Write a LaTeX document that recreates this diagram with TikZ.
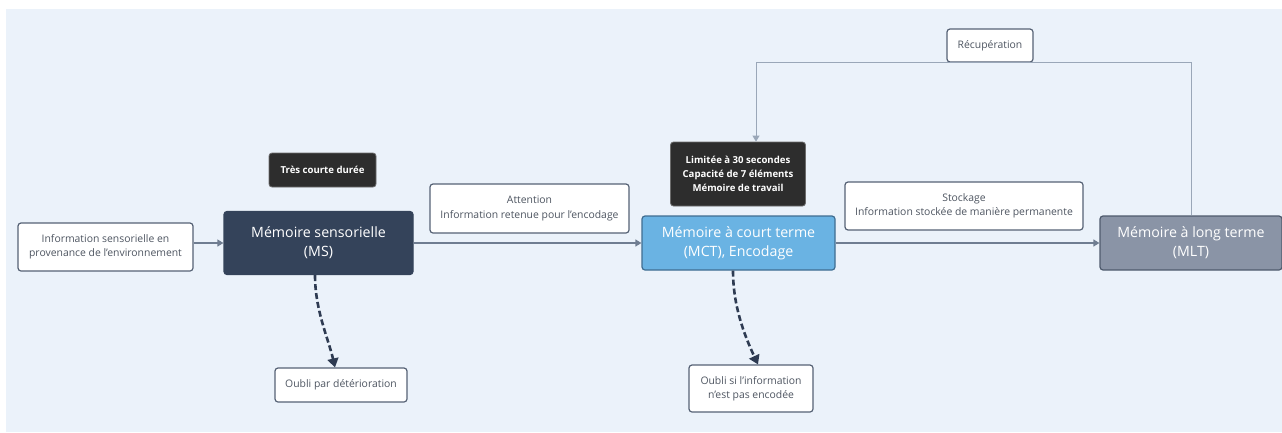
\documentclass[tikz,border=0pt]{standalone}
\usepackage{fontspec}
\setmainfont{Open Sans}
\usetikzlibrary{positioning,arrows.meta}
\definecolor{bgblue}{HTML}{EBF2FA}
\definecolor{edgegray}{HTML}{566275}
\definecolor{notetext}{HTML}{4E5561}
\definecolor{msfill}{HTML}{34435A}
\definecolor{darkfill}{HTML}{2D2D2D}
\definecolor{mctfill}{HTML}{6AB3E3}
\definecolor{mctedge}{HTML}{3F6D91}
\definecolor{mltfill}{HTML}{8A94A6}
\definecolor{mltedge}{HTML}{4F5B6D}
\definecolor{flowgray}{HTML}{6F7D91}
\definecolor{recupgray}{HTML}{9AA7B8}
\definecolor{forgetblue}{HTML}{2E3B52}

\begin{document}
\begin{tikzpicture}[x=1pt,y=-1pt,
  note/.style={draw=edgegray,fill=white,rounded corners=3pt,line width=1.2pt,inner sep=0pt,
    align=center,text=notetext,font=\fontsize{10.4}{14.2}\selectfont},
  dark/.style={draw=darkfill!70,fill=darkfill,rounded corners=3pt,line width=0.8pt,inner sep=0pt,
    align=center,text=white,font=\fontsize{9.6}{14}\selectfont\bfseries},
  memory/.style={rounded corners=3pt,line width=1.2pt,inner sep=0pt,align=center,text=white,
    font=\fontsize{14.2}{19}\selectfont},
  flow/.style={draw=flowgray,line width=1.3pt,-{Triangle[width=7pt,length=6pt]}},
  recup/.style={draw=recupgray,line width=1pt,-{Triangle[width=7pt,length=6pt]}},
  forget/.style={draw=forgetblue,line width=2.6pt,dash pattern=on 6pt off 3pt,
    -{Triangle[width=11pt,length=9pt]}}]
\useasboundingbox (0,0) rectangle (1282,432);
\fill[bgblue] (6,9) rectangle (1282,432);

\node[note, minimum width=175pt, minimum height=48pt] (src) at (105.5,247) {Information sensorielle en\\provenance de l'environnement};
\node[memory, draw=msfill, fill=msfill, minimum width=189pt, minimum height=63pt] (ms) at (318.5,243) {Mémoire sensorielle\\(MS)};
\node[dark, minimum width=107pt, minimum height=34pt] (tres) at (322.5,170) {Très courte durée};
\node[note, minimum width=199pt, minimum height=49pt] (att) at (529.5,208.5) {Attention\\Information retenue pour l'encodage};
\node[memory, draw=mctedge, fill=mctfill, minimum width=193pt, minimum height=54pt] (mct) at (738.5,243) {Mémoire à court terme\\(MCT), Encodage};
\node[dark, minimum width=135pt, minimum height=64pt] (lim) at (738,174) {Limitée à 30 secondes\\Capacité de 7 éléments\\Mémoire de travail};
\node[note, minimum width=238pt, minimum height=48pt] (stock) at (964,206) {Stockage\\Information stockée de manière permanente};
\node[memory, draw=mltedge, fill=mltfill, minimum width=182pt, minimum height=54pt] (mlt) at (1191,243) {Mémoire à long terme\\(MLT)};
\node[note, minimum width=86pt, minimum height=33pt] (recupnote) at (990,45.5) {Récupération};
\node[note, minimum width=132pt, minimum height=34pt] (oubli1) at (341,385) {Oubli par détérioration};
\node[note, minimum width=124pt, minimum height=47pt] (oubli2) at (751,388.5) {Oubli si l'information\\n'est pas encodée};

\draw[flow] (src.east |- ms.west) -- (ms.west);
\draw[flow] (ms.east) -- (mct.west);
\draw[flow] (mct.east) -- (mlt.west);
\draw[recup] (mlt.north) |- (recupnote.south) -| ([xshift=18pt]lim.north);
\draw[forget] ([xshift=-3.5pt]ms.south) .. controls +(0,35) and +(-7,-30) .. ([xshift=-6pt]oubli1.north);
\draw[forget] ([xshift=-5.5pt]mct.south) .. controls +(0,35) and +(-14,-30) .. ([xshift=7pt]oubli2.north);
\end{tikzpicture}
\end{document}
